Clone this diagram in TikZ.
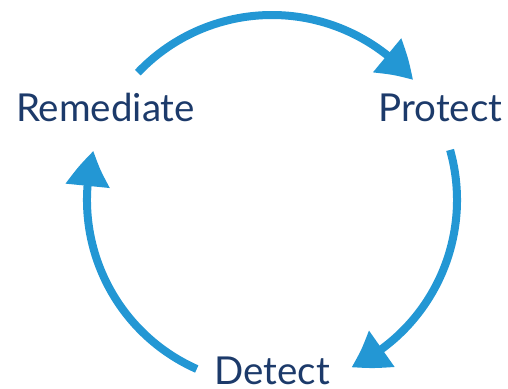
\documentclass[tikz,border=0pt]{standalone}
\usepackage{fontspec}
\setmainfont{Lato}
\usetikzlibrary{arrows.meta,bending}
\definecolor{cycblue}{HTML}{2397D4}
\definecolor{labnavy}{HTML}{1C3A6A}
\begin{document}
\begin{tikzpicture}[x=1pt,y=1pt,
  cyc/.style={draw=cycblue, line width=8pt, -{Triangle[length=36pt,width=42pt,bend]}},
  lab/.style={text=labnavy, font=\fontsize{38.5}{40}\selectfont, anchor=base, inner sep=0pt}]
\useasboundingbox (0,0) rectangle (508,388);
\coordinate (c) at (272,188);
\node[lab] (rem) at (105.5,266) {Remediate};
\node[lab] (pro) at (440.5,266) {Protect};
\node[lab] (det) at (272,3.5) {Detect};
\draw[cyc] ([shift={(136.5:185)}]c) arc[start angle=136.5, end angle=40.4, radius=185];
\draw[cyc] ([shift={(15.7:185)}]c) arc[start angle=15.7, end angle=-64.6, radius=185];
\draw[cyc] ([shift={(246:185)}]c) arc[start angle=246, end angle=164.6, radius=185];
\end{tikzpicture}
\end{document}
